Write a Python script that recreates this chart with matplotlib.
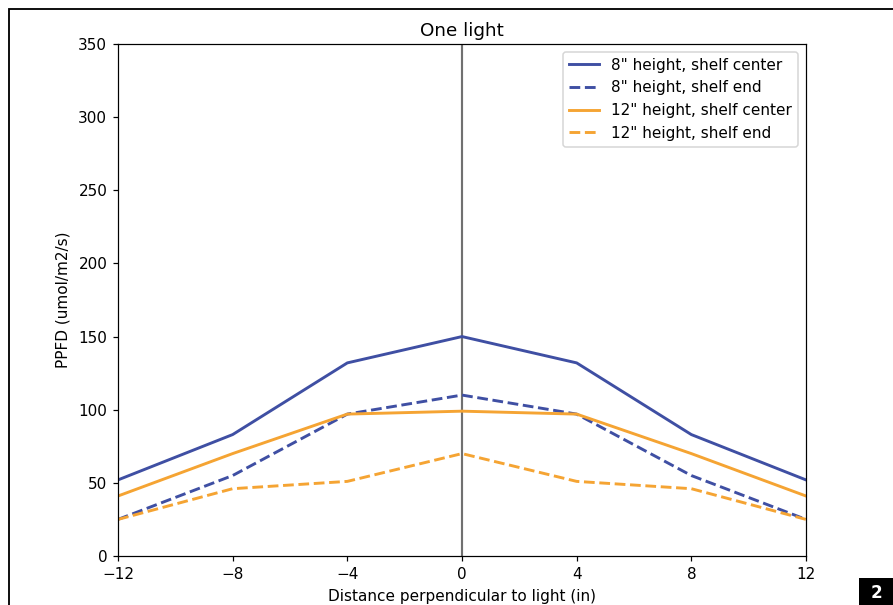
import matplotlib
matplotlib.use("Agg")
import matplotlib.pyplot as plt
from matplotlib.patches import Rectangle

# distance from the light, inches
distance = [-12, -8, -4, 0, 4, 8, 12]

# PPFD readings (umol/m2/s)
h8_center = [52, 83, 132, 150, 132, 83, 52]
h8_end = [25, 55, 97, 110, 97, 55, 25]
h12_center = [41, 70, 97, 99, 97, 70, 41]
h12_end = [25, 46, 51, 70, 51, 46, 25]

BLUE = '#3f4fa3'
ORANGE = '#f5a433'
DPI = 110


def plot_light(ax):
    ax.axvline(0, color='#707070', lw=1.4, zorder=1)
    ax.plot(distance, h8_center, color=BLUE, lw=1.9, label='8" height, shelf center')
    ax.plot(distance, h8_end, color=BLUE, lw=1.9, ls='--', label='8" height, shelf end')
    ax.plot(distance, h12_center, color=ORANGE, lw=1.9, label='12" height, shelf center')
    ax.plot(distance, h12_end, color=ORANGE, lw=1.9, ls='--', label='12" height, shelf end')
    ax.set_xlim(-12, 12)
    ax.set_ylim(0, 350)
    ax.set_xticks([-12, -8, -4, 0, 4, 8, 12])
    ax.set_title('One light', pad=5)
    ax.set_xlabel('Distance perpendicular to light (in)', labelpad=5)
    ax.set_ylabel('PPFD (umol/m2/s)', labelpad=5)
    ax.legend(loc='upper right')


def main():
    fig = plt.figure(figsize=(893 / DPI, 605 / DPI), dpi=DPI)
    ax = fig.add_axes([0.1321, 0.081, 0.7705, 0.8463])
    plot_light(ax)

    # screenshot frame and panel badge
    fig.patches.append(Rectangle((8.5 / 893, -0.1), 1.2, 1 - 9.5 / 605 + 0.1,
                                 transform=fig.transFigure, fill=False,
                                 edgecolor='black', lw=1.2))
    fig.patches.append(Rectangle((859 / 893, 0), 34 / 893, 27 / 605,
                                 transform=fig.transFigure, facecolor='black',
                                 edgecolor='none'))
    fig.text(876 / 893, 12.5 / 605, '2', color='white', fontsize=11,
             fontweight='bold', ha='center', va='center')

    fig.savefig('out.png', dpi=DPI)


if __name__ == "__main__":
    main()
